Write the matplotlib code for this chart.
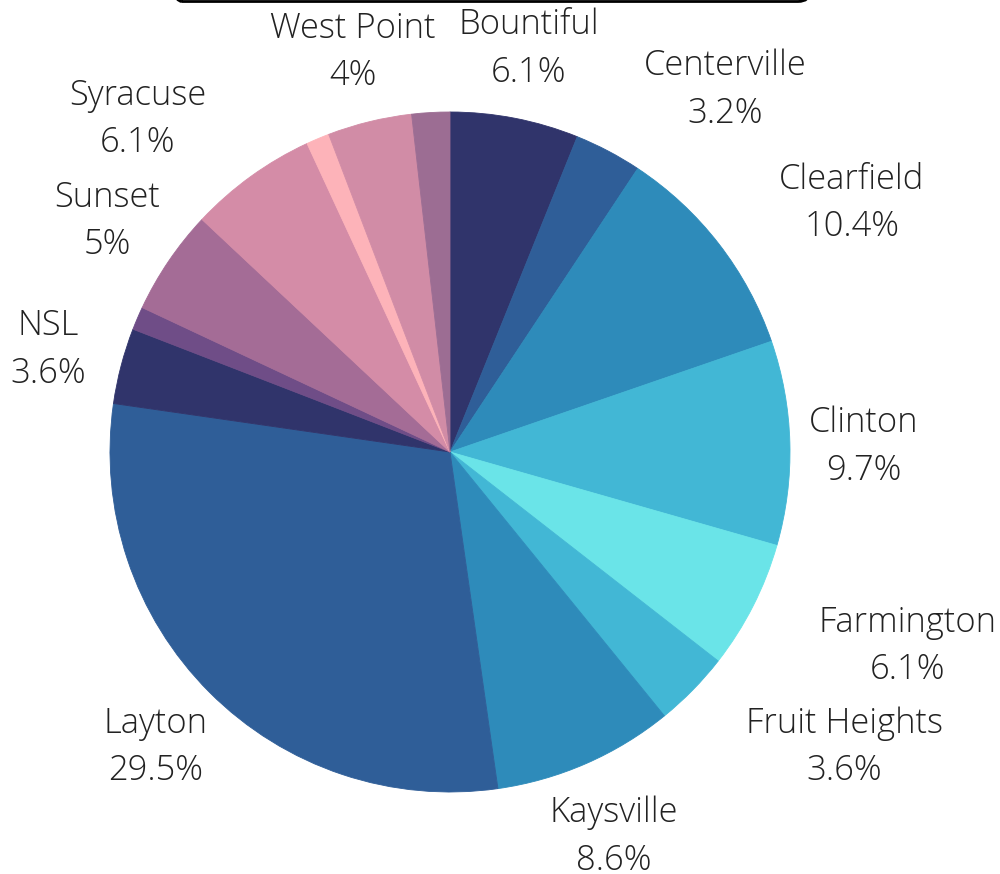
import matplotlib
matplotlib.use('Agg')
import matplotlib.pyplot as plt
from matplotlib.patches import FancyBboxPatch

plt.rcParams['font.family'] = ['Open Sans', 'DejaVu Sans']

# data (percent of total)
cities = ['Bountiful', 'Centerville', 'Clearfield', 'Clinton', 'Farmington',
          'Fruit Heights', 'Kaysville', 'Layton', 'NSL', '', 'Sunset',
          'Syracuse', '', 'West Point', '']
shares = [6.1, 3.2, 10.4, 9.7, 6.1, 3.6, 8.6, 29.5, 3.6, 1.1, 5, 6.1, 1.1, 4, 1.8]
colors = ['#30346b', '#2f5e98', '#2e8bba', '#42b7d5', '#6ae4e8',
          '#42b7d5', '#2e8bba', '#2f5e98', '#30346b', '#6f4d87',
          '#a46c96', '#d48ca7', '#fdb3b9', '#d18ca6', '#9c6d93']

# where each label sits (pie radius units, name baseline)
label_pos = {
    'Bountiful': (0.232, 1.229),
    'Centerville': (0.809, 1.109),
    'Clearfield': (1.182, 0.774),
    'Clinton': (1.218, 0.059),
    'Farmington': (1.347, -0.529),
    'Fruit Heights': (1.159, -0.826),
    'Kaysville': (0.482, -1.088),
    'Layton': (-0.865, -0.826),
    'NSL': (-1.182, 0.344),
    'Sunset': (-1.009, 0.721),
    'Syracuse': (-0.918, 1.021),
    'West Point': (-0.285, 1.218),
}

W, H, R = 1000, 874, 340
cx, cy = 450, 452

fig = plt.figure(figsize=(W / 100, H / 100), dpi=100)
ax = fig.add_axes([0, 0, 1, 1])

wedges, _ = ax.pie(shares, colors=colors, startangle=90, counterclock=False,
                   radius=1, center=(0, 0))
for w in wedges:
    w.set_edgecolor(w.get_facecolor())
    w.set_linewidth(0.6)

ax.set_xlim(-cx / R, (W - cx) / R)
ax.set_ylim(-(H - cy) / R, cy / R)
ax.set_aspect('equal')
ax.axis('off')

txt = dict(fontsize=24.8, color='#222222', fontweight='light', ha='center', va='baseline')
for name, val in zip(cities, shares):
    if not name:
        continue
    x, y = label_pos[name]
    ax.text(x, y, name, **txt)
    ax.text(x, y - 0.14, f'{val:g}%', **txt)

# bottom edge of the title box, cut off by the top of the image
box = FancyBboxPatch((170 / W, 1 - 1.5 / H), 640 / W, 60 / H,
                     boxstyle='round,pad=0,rounding_size=0.012',
                     transform=fig.transFigure, fill=False,
                     edgecolor='black', linewidth=2)
fig.patches.append(box)

plt.savefig('out.png', dpi=100)
